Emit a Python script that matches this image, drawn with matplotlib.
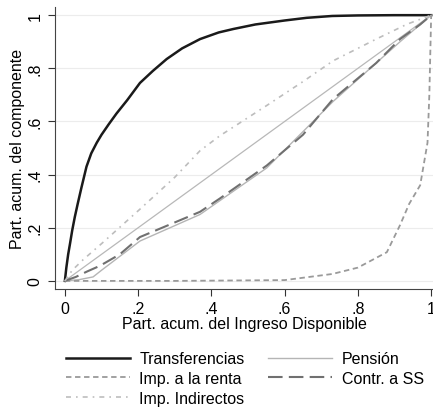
import matplotlib.pyplot as plt

plt.rcParams['font.family'] = ['Liberation Sans', 'DejaVu Sans']

# Curvas de concentración
transf_x = [0, 0.004, 0.009, 0.014, 0.02, 0.027, 0.035, 0.045, 0.059, 0.072, 0.087, 0.1, 0.12,
            0.141, 0.17, 0.205, 0.24, 0.278, 0.32, 0.369, 0.42, 0.46, 0.52, 0.6, 0.66,
            0.73, 0.8, 0.9, 1.0]
transf_y = [0, 0.05, 0.1, 0.14, 0.19, 0.24, 0.29, 0.35, 0.43, 0.48, 0.52, 0.55, 0.59,
            0.63, 0.68, 0.745, 0.79, 0.835, 0.875, 0.91, 0.935, 0.948, 0.965, 0.98, 0.99,
            0.997, 0.999, 1.0, 1.0]

pension_x = [0, 0.04, 0.077, 0.1, 0.205, 0.369, 0.551, 0.732, 0.915, 1.0]
pension_y = [0, 0.005, 0.015, 0.04, 0.15, 0.25, 0.425, 0.675, 0.9, 1.0]

renta_x = [0, 0.3, 0.6, 0.73, 0.8, 0.879, 0.915, 0.94, 0.97, 0.99, 0.995, 1.0]
renta_y = [0, 0.0, 0.003, 0.026, 0.05, 0.108, 0.21, 0.29, 0.36, 0.52, 0.7, 1.0]

ss_x = [0, 0.03, 0.06, 0.096, 0.15, 0.205, 0.3, 0.369, 0.423, 0.551, 0.65, 0.732, 0.85, 0.915, 0.97, 1.0]
ss_y = [0, 0.015, 0.035, 0.057, 0.1, 0.165, 0.22, 0.26, 0.31, 0.434, 0.55, 0.684, 0.82, 0.91, 0.965, 1.0]

indir_x = [0, 0.02, 0.05, 0.1, 0.205, 0.3, 0.369, 0.423, 0.551, 0.65, 0.732, 0.85, 0.934, 1.0]
indir_y = [0, 0.04, 0.08, 0.14, 0.27, 0.39, 0.49, 0.546, 0.66, 0.75, 0.828, 0.91, 0.966, 1.0]

diag = [0, 1]

ticks = [0, 0.2, 0.4, 0.6, 0.8, 1.0]
tick_labels = ["0", ".2", ".4", ".6", ".8", "1"]

fig = plt.figure(figsize=(4.33, 4.10), dpi=100)
ax = fig.add_axes([0.127, 0.293, 0.873, 0.687])

ax.plot(diag, diag, color="#b8b8b8", lw=0.9)
l1, = ax.plot(transf_x, transf_y, color="#1a1a1a", lw=1.8, label="Transferencias")
l2, = ax.plot(pension_x, pension_y, color="#b5b5b5", lw=1.0, label="Pensión")
l3, = ax.plot(renta_x, renta_y, color="#9a9a9a", lw=1.3, dashes=(3, 2), label="Imp. a la renta")
l4, = ax.plot(ss_x, ss_y, color="#707070", lw=1.5, dashes=(7, 3), label="Contr. a SS")
l5, = ax.plot(indir_x, indir_y, color="#bdbdbd", lw=1.2, dashes=(3, 3, 1, 3), label="Imp. Indirectos")

ax.set_xlim(-0.027, 1.005)
ax.set_ylim(-0.03, 1.03)
ax.set_xticks(ticks)
ax.set_xticklabels(tick_labels)
ax.set_yticks(ticks)
ax.set_yticklabels(tick_labels, rotation=90, va="center")
ax.tick_params(direction="out", length=5, width=0.8, colors="#333333", labelsize=11.5,
               labelcolor="black", pad=4)
ax.grid(axis="y", color="#ececec", lw=0.8)
ax.set_axisbelow(True)
for s in ["top", "right"]:
    ax.spines[s].set_visible(False)
for s in ["left", "bottom"]:
    ax.spines[s].set_color("#444444")
ax.set_xlabel("Part. acum. del Ingreso Disponible", fontsize=11.5, labelpad=0)
ax.set_ylabel("Part. acum. del componente", fontsize=11.5, labelpad=2)

fig.legend(handles=[l1, l3, l5, l2, l4], loc="upper left", bbox_to_anchor=(0.152, 0.141),
           ncol=2, frameon=False, fontsize=11.5, handlelength=4.0, handletextpad=0.6,
           columnspacing=1.5, labelspacing=0.3, borderaxespad=0, borderpad=0)

fig.savefig("out.png", dpi=100)
